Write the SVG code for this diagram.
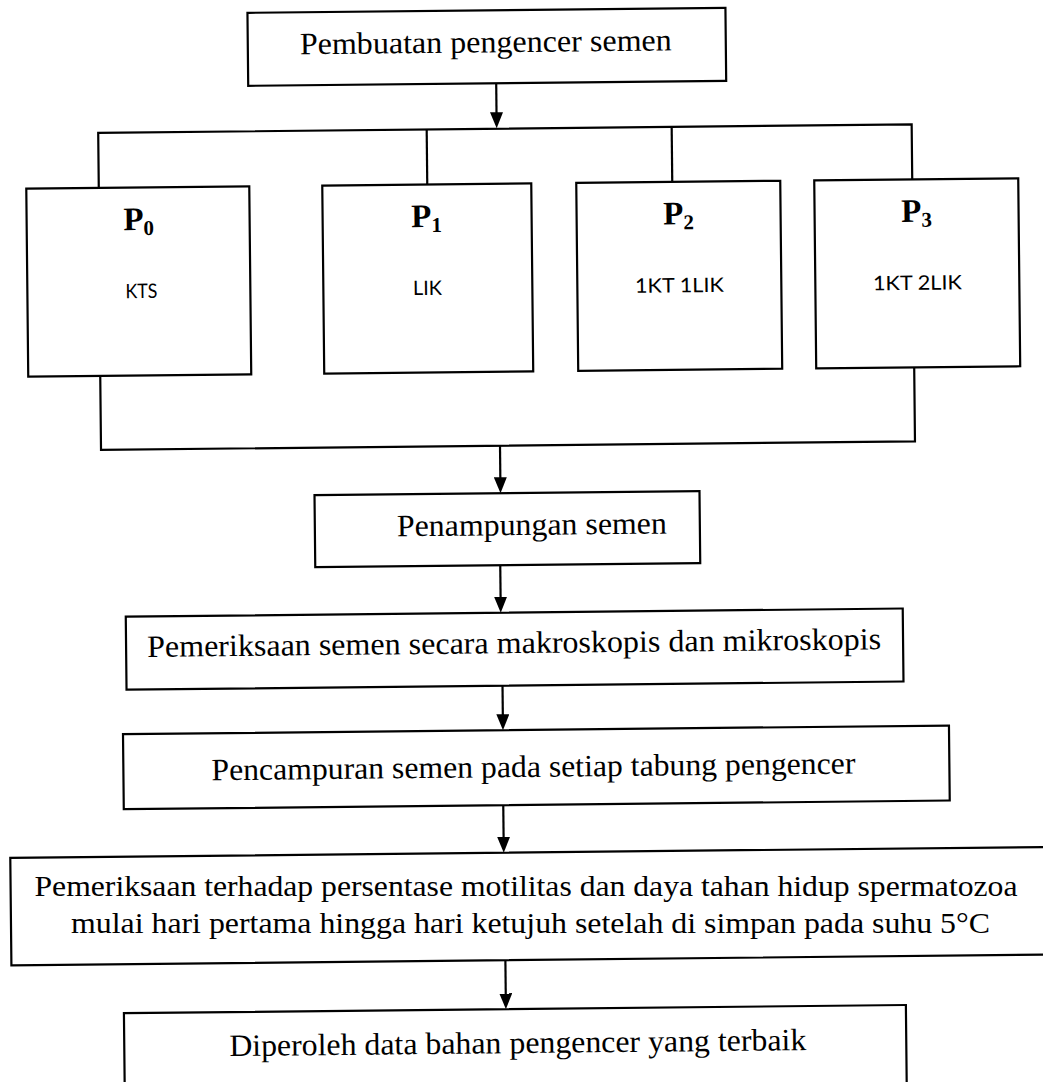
<svg xmlns="http://www.w3.org/2000/svg" width="1043" height="1082" viewBox="0 0 1043 1082">
<defs>
<style>
.box{fill:#fff;stroke:#000;stroke-width:2.2}
.ln{fill:none;stroke:#000;stroke-width:2.2}
.t{font-family:"Liberation Serif","Times New Roman",serif;font-size:31px;fill:#000;text-anchor:middle}
.t2{font-family:"Liberation Serif","Times New Roman",serif;font-size:30px;fill:#000;text-anchor:middle}
.p{font-family:"Liberation Serif","Times New Roman",serif;font-size:33px;font-weight:bold;fill:#000;text-anchor:middle}
.s{font-family:Lato,"Open Sans",sans-serif;font-size:20px;fill:#000;text-anchor:middle}
</style>
<marker id="ah" viewBox="0 0 16 13" markerWidth="16" markerHeight="13" refX="12" refY="6.5" orient="auto" markerUnits="userSpaceOnUse">
<path d="M0,0 L16,6.5 L0,13 Z" fill="#000"/>
</marker>
</defs>
<rect x="0" y="0" width="1043" height="1082" fill="#fff"/>
<g transform="rotate(-0.6 521 541)">
<g id="connectors">
<line class="ln" x1="501" y1="83" x2="501" y2="124" marker-end="url(#ah)"/>
<polyline class="ln" points="102.5,183.5 102.5,128.5 916,128.5 916,183.5"/>
<line class="ln" x1="431" y1="128.5" x2="431" y2="183.5"/>
<line class="ln" x1="676" y1="128.5" x2="676" y2="183.5"/>
<polyline class="ln" points="102,371.5 102,445.5 916,445.5 916,371.5"/>
<line class="ln" x1="501" y1="445.5" x2="501" y2="489" marker-end="url(#ah)"/>
<line class="ln" x1="500" y1="565" x2="500" y2="608.5" marker-end="url(#ah)"/>
<line class="ln" x1="501" y1="685.5" x2="501" y2="726" marker-end="url(#ah)"/>
<line class="ln" x1="500.5" y1="805" x2="500.5" y2="848.5" marker-end="url(#ah)"/>
<line class="ln" x1="501" y1="960" x2="501" y2="1005" marker-end="url(#ah)"/>
</g>
<g id="pembuatan">
<rect class="box" x="253" y="10" width="478" height="73"/>
<text class="t" x="491" y="52" textLength="372" lengthAdjust="spacingAndGlyphs">Pembuatan pengencer semen</text>
</g>
<g id="p0">
<rect class="box" x="30" y="183.5" width="223" height="188"/>
<text class="p" x="142" y="226">P<tspan font-size="21" dy="5">0</tspan></text>
<text class="s" x="144" y="294" textLength="32" lengthAdjust="spacingAndGlyphs">KTS</text>
</g>
<g id="p1">
<rect class="box" x="326" y="183.5" width="209" height="188"/>
<text class="p" x="430" y="226">P<tspan font-size="21" dy="5">1</tspan></text>
<text class="s" x="430" y="294" textLength="29" lengthAdjust="spacingAndGlyphs">LIK</text>
</g>
<g id="p2">
<rect class="box" x="580" y="183.5" width="204" height="188"/>
<text class="p" x="682" y="226">P<tspan font-size="21" dy="5">2</tspan></text>
<text class="s" x="682" y="294" textLength="89" lengthAdjust="spacingAndGlyphs">1KT 1LIK</text>
</g>
<g id="p3">
<rect class="box" x="818" y="183.5" width="204" height="188"/>
<text class="p" x="920" y="226">P<tspan font-size="21" dy="5">3</tspan></text>
<text class="s" x="920" y="294" textLength="89" lengthAdjust="spacingAndGlyphs">1KT 2LIK</text>
</g>
<g id="penampungan">
<rect class="box" x="315" y="493" width="385" height="72"/>
<text class="t" x="532" y="535" textLength="270" lengthAdjust="spacingAndGlyphs">Penampungan semen</text>
</g>
<g id="pemeriksaan">
<rect class="box" x="125" y="612.5" width="777" height="73"/>
<text class="t" x="513" y="653" textLength="734" lengthAdjust="spacingAndGlyphs">Pemeriksaan semen secara makroskopis dan mikroskopis</text>
</g>
<g id="pencampuran">
<rect class="box" x="121" y="730" width="826" height="75"/>
<text class="t" x="531" y="777" textLength="644" lengthAdjust="spacingAndGlyphs">Pencampuran semen pada setiap tabung pengencer</text>
</g>
<g id="pemeriksaan-motilitas-box">
<rect class="box" x="7" y="852.5" width="1034" height="107.5"/>
</g>
<g id="diperoleh">
<rect class="box" x="119" y="1009" width="782" height="100"/>
<text class="t" x="512.5" y="1053" textLength="577" lengthAdjust="spacingAndGlyphs">Diperoleh data bahan pengencer yang terbaik</text>
</g>
</g>
<g id="pemeriksaan-motilitas">
<text class="t2" x="526" y="896" textLength="983" lengthAdjust="spacingAndGlyphs">Pemeriksaan terhadap persentase motilitas dan daya tahan hidup spermatozoa</text>
<text class="t2" x="530.5" y="933" textLength="919" lengthAdjust="spacingAndGlyphs">mulai hari pertama hingga hari ketujuh setelah di simpan pada suhu 5°C</text>
</g>
</svg>
